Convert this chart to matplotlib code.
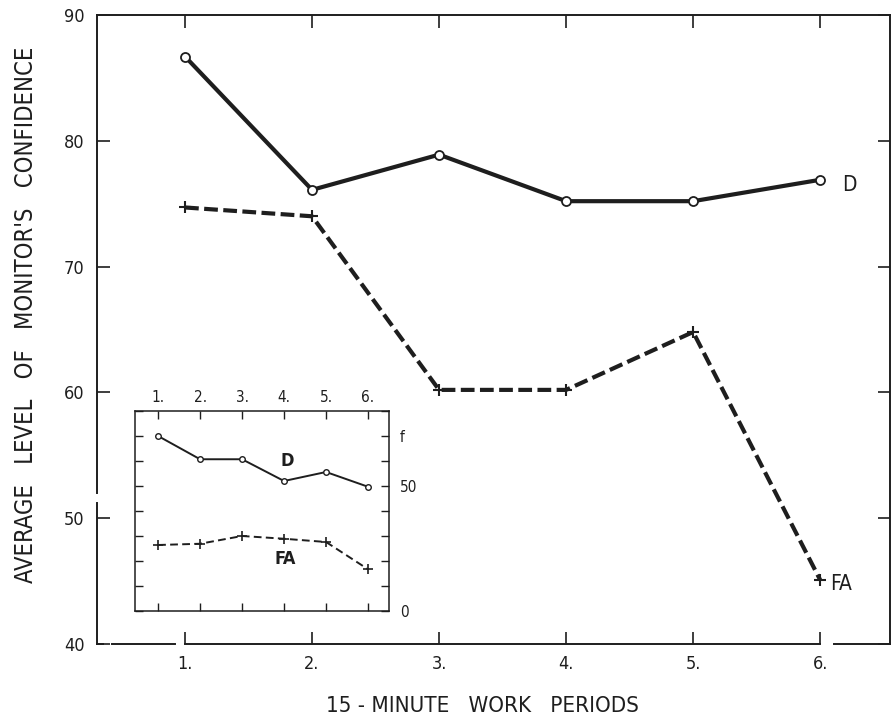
import matplotlib
matplotlib.use("Agg")
import matplotlib.pyplot as plt
from matplotlib.lines import Line2D

plt.rcParams['font.family'] = ['DejaVu Sans']
plt.rcParams['font.stretch'] = 'condensed'

# ---- data ----
periods = [1, 2, 3, 4, 5, 6]
period_labels = ["1.", "2.", "3.", "4.", "5.", "6."]
d_conf = [86.7, 76.1, 78.9, 75.2, 75.2, 76.9]
fa_conf = [74.7, 74.0, 60.2, 60.2, 64.8, 45.1]
y_ticks = [40, 50, 60, 70, 80, 90]

inset_d = [70.0, 60.7, 60.7, 52.0, 55.6, 49.7]
inset_fa = [26.4, 26.9, 30.0, 28.9, 27.6, 16.7]
inset_yticks = [0, 10, 20, 30, 40, 50, 60, 70, 80]
inset_ylabels = ["0", "", "", "", "", "50", "", "f", ""]

ink = "#1e1e1e"

fig = plt.figure(figsize=(8.94, 7.2), dpi=100)
ax = fig.add_axes([97/894, 1-644/720, (890-97)/894, (644-15)/720])

ax.plot(periods, d_conf, color=ink, lw=3.0, marker='o', ms=6.5, mfc='white',
        mec=ink, mew=1.3, zorder=3)
ax.plot(periods, fa_conf, color=ink, lw=3.0, ls=(0, (3.3, 1.3)), marker='+',
        ms=8, mew=1.5, zorder=3)

ax.set_xlim(0.307, 6.55)
ax.set_ylim(40, 90)
ax.set_xticks(periods)
ax.set_xticklabels(period_labels)
ax.set_yticks(y_ticks)
ax.tick_params(axis='both', direction='in', length=9, width=1.2, color=ink,
               labelsize=13, labelcolor=ink, top=True, right=True)
ax.tick_params(axis='x', pad=8)
ax.tick_params(axis='y', pad=9)
for s in ax.spines.values():
    s.set_color(ink)
    s.set_linewidth(1.4)
ax.spines['bottom'].set_bounds(1, 6)
ax.spines['left'].set_visible(False)

# decorative frame pieces (in axes coordinates)
T = ax.transAxes
for xs, ys in [((0, 0), (0, 0.224)), ((0, 0), (0.240, 1)),
               ((0, 0.007), (0, 0)), ((0.019, 0.098), (0, 0)),
               ((0.93, 1), (0, 0))]:
    ax.add_line(Line2D(xs, ys, transform=T, color=ink, lw=1.4, clip_on=False))

ax.text(6.17, d_conf[-1] - 0.4, "D", fontsize=15, color=ink, va='center', ha='left')
ax.text(6.08, fa_conf[-1] - 0.3, "FA", fontsize=15, color=ink, va='center', ha='left')

ax.set_xlabel("15 - MINUTE   WORK   PERIODS", fontsize=16, color=ink, labelpad=16)
ax.xaxis.set_label_coords(0.486, -0.083)
ax.set_ylabel("AVERAGE   LEVEL   OF   MONITOR'S   CONFIDENCE", fontsize=17,
              color=ink, labelpad=14)
ax.yaxis.set_label_coords(-0.075, 0.524)

# ---- inset ----
ai = fig.add_axes([135/894, 1-611/720, 254/894, 200/720])
ai.plot(periods, inset_d, color=ink, lw=1.4, marker='o', ms=4, mfc='white',
        mec=ink, mew=1.0)
ai.plot(periods, inset_fa, color=ink, lw=1.4, ls=(0, (4, 2.2)), marker='+',
        ms=7, mew=1.2)
ai.set_xlim(0.45, 6.5)
ai.set_ylim(0, 80)
ai.set_xticks(periods)
ai.set_xticklabels(period_labels)
ai.set_yticks(inset_yticks)
ai.set_yticklabels(inset_ylabels)
ai.tick_params(axis='both', direction='in', length=6, width=1.0, color=ink,
               labelsize=11, labelcolor=ink, top=True, right=True,
               labeltop=True, labelbottom=False, labelleft=False,
               labelright=True)
ai.tick_params(axis='x', pad=4)
ai.tick_params(axis='y', pad=8)
for s in ai.spines.values():
    s.set_color(ink)
    s.set_linewidth(1.1)
ai.text(4.07, 60, "D", fontsize=13, fontweight='bold', color=ink, ha='center', va='center')
ai.text(4.02, 20.8, "FA", fontsize=13, fontweight='bold', color=ink, ha='center', va='center')

fig.savefig("out.png", dpi=100, facecolor='white')
